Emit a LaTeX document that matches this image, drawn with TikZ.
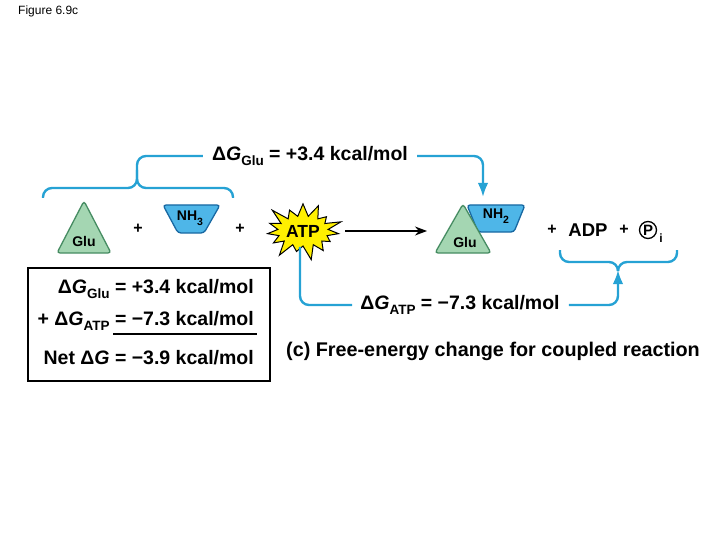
\documentclass[tikz,border=0pt]{standalone}
\usepackage{fontspec}
\setmainfont{Liberation Sans}
\usetikzlibrary{shapes.symbols,arrows.meta}
\definecolor{cyanline}{RGB}{38,162,212}
\definecolor{glufill}{RGB}{164,214,178}
\definecolor{gluedge}{RGB}{70,140,98}
\definecolor{nhfill}{RGB}{78,182,232}
\definecolor{nhedge}{RGB}{24,104,162}
\definecolor{atpyellow}{RGB}{255,240,0}
\newcommand{\lowsub}[1]{\raisebox{-0.3em}{\fontsize{13.5}{13.5}\selectfont #1}}
\newcommand{\smallsub}[1]{\raisebox{-0.35em}{\fontsize{10.5}{10.5}\selectfont #1}}
\tikzset{
  lbl/.style={font=\fontsize{19.5}{23}\selectfont\bfseries, inner sep=0pt},
  captiontext/.style={font=\fontsize{19.8}{23}\selectfont\bfseries, inner sep=0pt},
  plus/.style={font=\fontsize{16}{18}\selectfont\bfseries, inner sep=0pt},
  mol/.style={font=\fontsize{14}{15}\selectfont\bfseries, inner sep=0pt},
  bline/.style={draw=cyanline, line width=2.4pt, rounded corners=9pt},
  barrow/.style={bline, -{Latex[length=14pt,width=10.5pt]}},
  glushape/.style={fill=glufill, draw=gluedge, line width=1.3pt, rounded corners=3pt},
  nhshape/.style={fill=nhfill, draw=nhedge, line width=1.3pt, rounded corners=3pt},
}
\begin{document}
\begin{tikzpicture}[x=1pt,y=-1pt]
\useasboundingbox (0,0) rectangle (720,540);
\node[anchor=west, font=\fontsize{12}{14}\selectfont, inner sep=0pt] (fig) at (18,11) {Figure 6.9c};

% reactants
\draw[glushape] (84,201) -- (111,253) -- (57,253) -- cycle;
\node[mol] (glu1) at (84,241) {Glu};
\draw[nhshape] (163,205) -- (220,205) -- (204,233) -- (178,233) -- cycle;
\node[mol] (nh3) at (190,218) {NH\smallsub{3}};
\node[plus] (p1) at (138,229) {+};
\node[plus] (p2) at (240,229) {+};

% ATP
\node[starburst, starburst points=15, starburst point height=17pt, fill=atpyellow, draw=black, line width=1pt,
      minimum width=76pt, minimum height=64pt, inner sep=1pt, font=\fontsize{17.5}{19}\selectfont\bfseries] (atp) at (303,231) {ATP};

% main arrow
\coordinate (aS) at (345,231);
\coordinate (aE) at (427,231);
\draw[line width=1.4pt, -{Stealth[length=12pt,width=9pt]}] (aS) -- (aE);

% product
\draw[nhshape] (467,205) -- (525,205) -- (514,232) -- (478,232) -- cycle;
\draw[glushape] (463,204) -- (491,253) -- (435,253) -- cycle;
\node[mol] (glu2) at (465,242) {Glu};
\node[mol] (nh2) at (496,216) {NH\smallsub{2}};
\node[plus] (p3) at (552,230) {+};
\node[font=\fontsize{18.5}{20}\selectfont\bfseries, inner sep=0pt] (adp) at (588,230) {ADP};
\node[plus] (p4) at (624,230) {+};
\node[circle, draw=black, line width=1.3pt, inner sep=0pt, minimum size=17pt, font=\fontsize{15}{16}\selectfont\bfseries] (pi) at (648,230) {P};
\node[font=\fontsize{12}{12}\selectfont\bfseries, inner sep=0pt] (pisub) at (661,238) {i};

% top labels and connectors
\node[lbl] (gglu) at (310,156) {Δ\textit{G}\lowsub{Glu} = +3.4 kcal/mol};
\draw[bline] (43,198) -- (43,188) -- (137,188) |- ([xshift=-9pt]gglu.west);
\draw[bline] (233,198) -- (233,188) -- (137,188) -- (137,170);
\coordinate (tipTop) at (483,197);
\draw[barrow] ([xshift=9pt]gglu.east) -| (tipTop);

% bottom connectors
\node[lbl] (gatp) at (460,305) {Δ\textit{G}\lowsub{ATP} = −7.3 kcal/mol};
\draw[bline] ([xshift=-3pt]atp.south) |- ([xshift=-8pt]gatp.west);
\draw[bline] (560,250) -- (560,262) -- (618,262) -- (618,270);
\draw[bline] (677,250) -- (677,262) -- (618,262) -- (618,270);
\coordinate (tipBot) at (618,270);
\draw[barrow] ([xshift=9pt]gatp.east) -| (tipBot);

% summary box
\node[draw=black, line width=1.8pt, minimum width=242pt, minimum height=113pt, inner sep=0pt] (box) at (149,324.5) {};
\node[lbl, anchor=east] (l1) at (254,289) {Δ\textit{G}\lowsub{Glu} = +3.4 kcal/mol};
\node[lbl, anchor=east] (l2) at (254,321) {+ Δ\textit{G}\lowsub{ATP} = −7.3 kcal/mol};
\node[lbl, anchor=east] (l3) at (254,358) {Net Δ\textit{G} = −3.9 kcal/mol};
\draw[line width=1.6pt] (113,334) -- (257,334);

% caption
\node[captiontext] (caption) at (493,351) {(c) Free-energy change for coupled reaction};
\end{tikzpicture}
\end{document}
